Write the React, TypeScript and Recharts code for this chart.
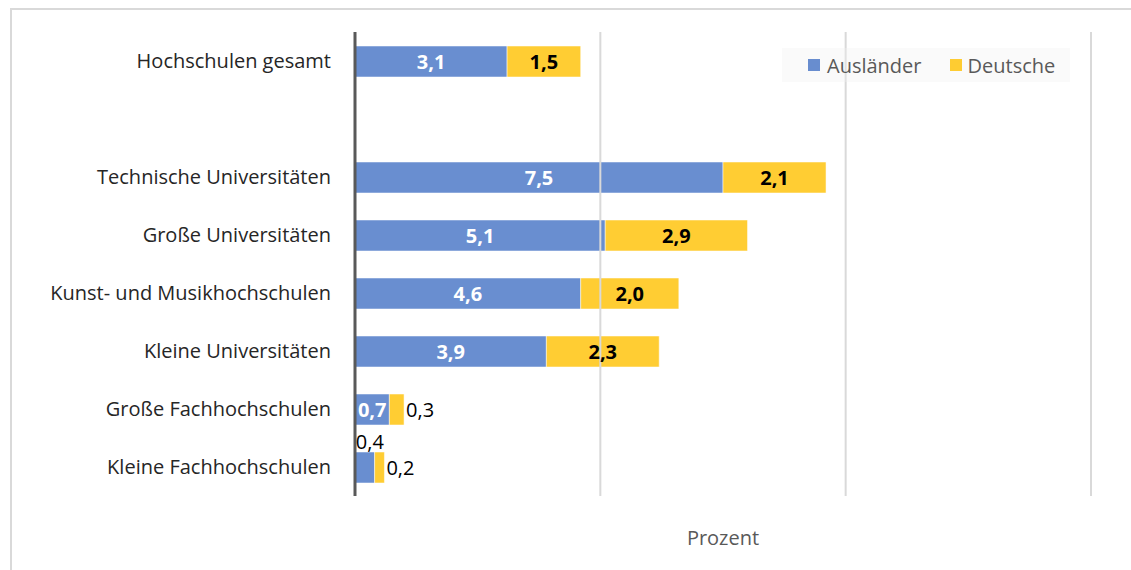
import React from "react";
import { BarChart, Bar, XAxis, YAxis, ReferenceLine, Legend, LabelList } from "recharts";

const categories = [
  "Hochschulen gesamt",
  "",
  "Technische Universitäten",
  "Große Universitäten",
  "Kunst- und Musikhochschulen",
  "Kleine Universitäten",
  "Große Fachhochschulen",
  "Kleine Fachhochschulen",
];
const auslaender: (number | null)[] = [3.1, null, 7.5, 5.1, 4.6, 3.9, 0.7, 0.4];
const deutsche: (number | null)[] = [1.5, null, 2.1, 2.9, 2.0, 2.3, 0.3, 0.2];
const xTicks = [0, 5, 10, 15];

const data = categories.map((name, i) => ({
  name,
  Ausländer: auslaender[i],
  Deutsche: deutsche[i],
}));

const FONT = "'Open Sans', sans-serif";
const fmt = (v: number) => v.toFixed(1).replace(".", ",");

const BLUE = "#4472C4";
const YELLOW = "#FFC000";
const FS = 20;

const AusLabel = (props: any) => {
  const { x, y, width, height, value } = props;
  if (value == null) return null;
  if (value >= 0.5) {
    return (
      <text x={x + width / 2} y={y + height / 2} textAnchor="middle" dominantBaseline="central"
        fill="#ffffff" fontWeight="bold" fontSize={FS} fontFamily={FONT}>
        {fmt(value)}
      </text>
    );
  }
  return (
    <text x={x + width / 2 + 5} y={y - 11} textAnchor="middle" dominantBaseline="central"
      fill="#000000" fontSize={FS} fontFamily={FONT}>
      {fmt(value)}
    </text>
  );
};

const DeuLabel = (props: any) => {
  const { x, y, width, height, value } = props;
  if (value == null) return null;
  if (value >= 1) {
    return (
      <text x={x + width / 2} y={y + height / 2} textAnchor="middle" dominantBaseline="central"
        fill="#000000" fontWeight="bold" fontSize={FS} fontFamily={FONT}>
        {fmt(value)}
      </text>
    );
  }
  return (
    <text x={x + width + 2} y={y + height / 2} textAnchor="start" dominantBaseline="central"
      fill="#000000" fontSize={FS} fontFamily={FONT}>
      {fmt(value)}
    </text>
  );
};

const LegendContent = () => (
  <div
    style={{
      display: "flex",
      alignItems: "center",
      width: 288,
      height: 34,
      background: "rgba(240,240,240,0.35)",
      fontFamily: FONT,
      fontSize: FS,
      color: "#595959",
      boxSizing: "border-box",
      paddingLeft: 26,
      whiteSpace: "nowrap",
    }}
  >
    <span style={{ width: 12, height: 12, background: BLUE, opacity: 0.8, display: "inline-block", marginRight: 7 }} />
    <span style={{ marginRight: 28 }}>Ausländer</span>
    <span style={{ width: 12, height: 12, background: YELLOW, opacity: 0.8, display: "inline-block", marginRight: 6 }} />
    <span>Deutsche</span>
  </div>
);

export default function App() {
  return (
    <div style={{ position: "absolute", left: 0, top: 0, width: 1131, height: 570, overflow: "hidden", background: "#fff" }}>
      <div
        style={{
          position: "absolute",
          left: 10,
          top: 8,
          width: 1140,
          height: 600,
          border: "2px solid #d9d9d9",
          boxSizing: "border-box",
        }}
      />
      <div style={{ position: "absolute", left: 0, top: 0 }}>
        <BarChart
          width={1131}
          height={570}
          data={data}
          layout="vertical"
          margin={{ top: 32, right: 40, bottom: 0, left: 0 }}
          barSize={31}
        >
          <XAxis
            type="number"
            domain={[0, 15]}
            ticks={xTicks}
            tick={false}
            axisLine={false}
            tickLine={false}
            height={74}
            label={{ value: "Prozent", position: "center", dy: 5, fill: "#595959", fontSize: FS, fontFamily: FONT }}
          />
          <YAxis
            type="category"
            dataKey="name"
            width={355}
            tickSize={0}
            tickMargin={24}
            axisLine={{ stroke: "#595959", strokeWidth: 3 }}
            tickLine={false}
            tick={{ fill: "#262626", fontSize: FS, fontFamily: FONT }}
            interval={0}
          />
          {xTicks.slice(1).map((t) => (
            <ReferenceLine key={t} x={t} stroke="#d9d9d9" strokeWidth={2} />
          ))}
          <Legend
            layout="horizontal"
            verticalAlign="middle"
            align="center"
            content={<LegendContent />}
            wrapperStyle={{ position: "absolute", left: 782, top: 48, width: 288, height: 34 }}
          />
          <Bar dataKey="Ausländer" stackId="a" fill={BLUE} fillOpacity={0.8} stroke="#ffffff" strokeOpacity={0.5} isAnimationActive={false}>
            <LabelList dataKey="Ausländer" content={<AusLabel />} />
          </Bar>
          <Bar dataKey="Deutsche" stackId="a" fill={YELLOW} fillOpacity={0.8} stroke="#ffffff" strokeOpacity={0.5} isAnimationActive={false}>
            <LabelList dataKey="Deutsche" content={<DeuLabel />} />
          </Bar>
        </BarChart>
      </div>
    </div>
  );
}
